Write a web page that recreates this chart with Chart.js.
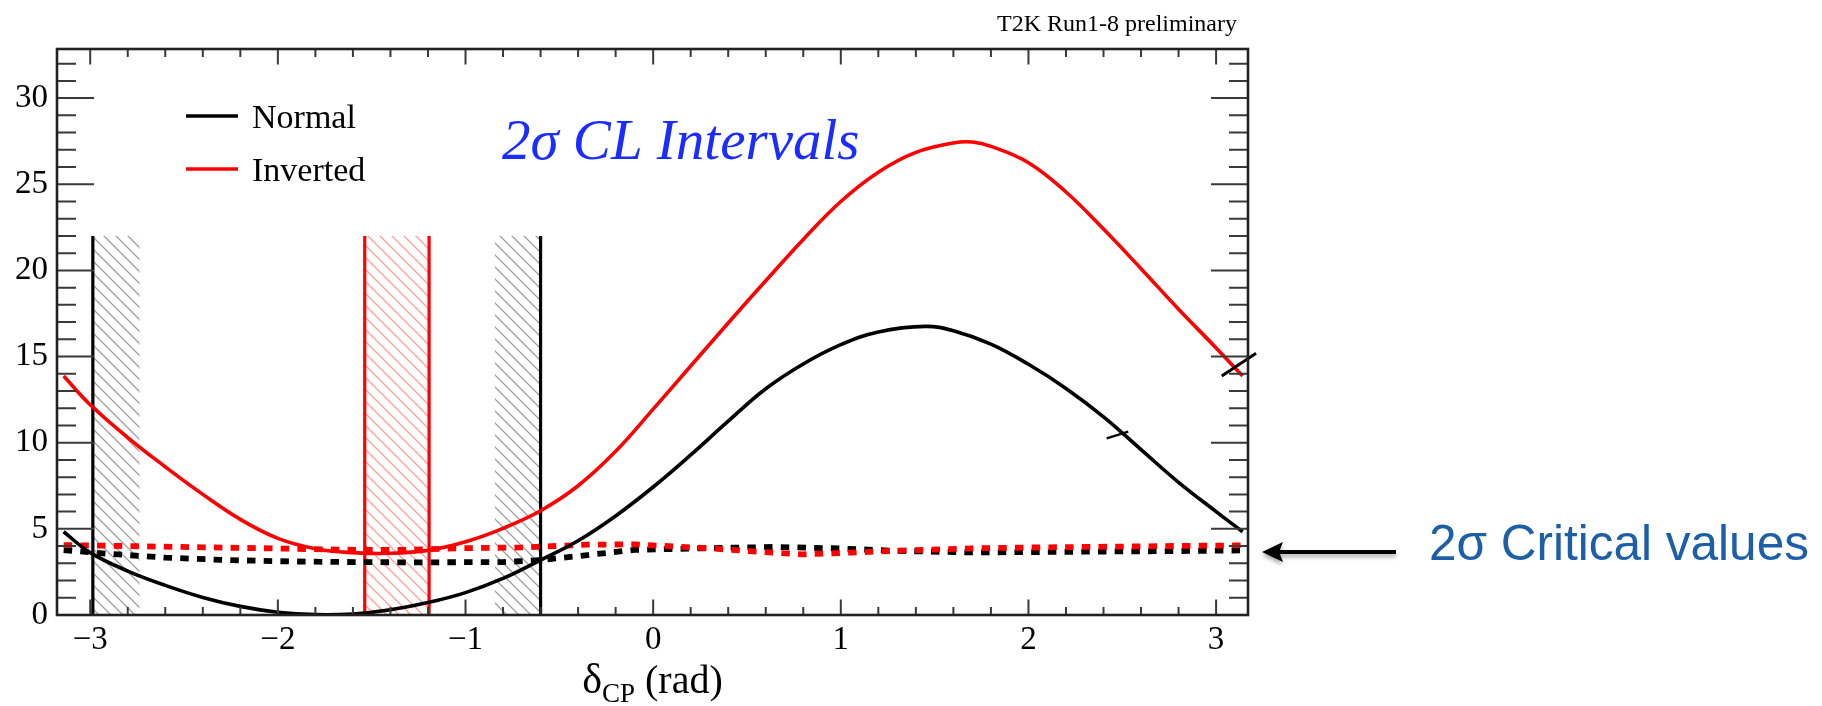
<!DOCTYPE html>
<html><head><meta charset="utf-8">
<script src="https://cdn.jsdelivr.net/npm/chart.js@4.4.1/dist/chart.umd.min.js"></script>
<style>html,body{margin:0;padding:0;background:#fff;overflow:hidden}canvas{display:block}</style>
</head><body>
<canvas id="c" width="1822" height="706"></canvas>
<script>
// ---------- data ----------
const seriesNames = ['Normal', 'Inverted'];

const normalX = [-3.1416,-3.0,-2.8,-2.6,-2.4,-2.2,-2.0,-1.8,-1.6,-1.4,-1.2,-1.0,-0.8,-0.6,-0.4,-0.2,0.0,0.2,0.4,0.6,0.8,1.0,1.2,1.45,1.6,1.8,2.0,2.2,2.4,2.6,2.8,3.0,3.1416];
const normalY = [4.83,3.62,2.55,1.72,1.02,0.5,0.16,0.02,0.06,0.3,0.72,1.3,2.12,3.19,4.31,5.75,7.43,9.29,11.25,13.13,14.57,15.69,16.43,16.75,16.5,15.72,14.55,13.15,11.5,9.6,7.7,6.0,4.83];

const invertedX = [-3.1416,-3.0,-2.8,-2.6,-2.4,-2.2,-2.0,-1.8,-1.6,-1.4,-1.2,-1.0,-0.8,-0.6,-0.4,-0.2,0.0,0.2,0.4,0.6,0.8,1.0,1.2,1.4,1.6,1.7,1.8,2.0,2.2,2.4,2.6,2.8,3.0,3.1416];
const invertedY = [13.87,12.2,10.3,8.6,7.0,5.55,4.45,3.85,3.62,3.58,3.75,4.25,5.03,6.05,7.5,9.5,11.95,14.45,16.95,19.4,21.8,24.0,25.7,26.85,27.4,27.45,27.2,26.25,24.55,22.4,20.1,17.75,15.5,13.87];

const critNormalX = [-3.1416,-2.9,-2.6,-2.3,-2.0,-1.7,-1.4,-1.1,-0.8,-0.6,-0.35,-0.1,0.3,0.65,1.0,1.3,1.7,2.1,2.5,2.9,3.1416];
const critNormalY = [3.77,3.55,3.33,3.2,3.12,3.08,3.06,3.06,3.07,3.19,3.48,3.78,3.88,3.95,3.86,3.72,3.63,3.66,3.69,3.72,3.75];

const critInvertedX = [-3.1416,-2.8,-2.4,-2.0,-1.6,-1.3,-1.0,-0.7,-0.35,-0.1,0.3,0.55,0.8,1.05,1.3,1.7,2.1,2.5,2.9,3.1416];
const critInvertedY = [4.06,4.0,3.93,3.86,3.78,3.78,3.88,3.92,4.08,4.1,3.87,3.68,3.52,3.62,3.73,3.87,3.93,3.97,4.02,4.04];

const normalBounds = [-2.986, -0.6];
const invertedBounds = [-1.537, -1.194];
const normalHatches = [[-2.986, -2.736], [-0.844, -0.6]];
const invertedHatches = [[-1.537, -1.194]];
const boundTop = 22;

const artifactEdgeX = [3.03, 3.213];
const artifactEdgeY = [13.87, 15.19];
const artifactKinkX = [2.417, 2.532];
const artifactKinkY = [10.25, 10.64];

const xTicks = [-3, -2, -1, 0, 1, 2, 3];
const yTicks = [0, 5, 10, 15, 20, 25, 30];
const X_MIN = -3.177, X_MAX = 3.17, Y_MIN = 0, Y_MAX = 32.85;

// ---------- helpers ----------
const pts = (xs, ys) => xs.map((x, i) => ({x, y: ys[i]}));
const cvs = document.getElementById('c');
const mainCtx = cvs.getContext('2d');
function hatch(color, s, lw) {
  const c = document.createElement('canvas'); c.width = s; c.height = s;
  const g = c.getContext('2d'); g.strokeStyle = color; g.lineWidth = lw;
  g.beginPath();
  g.moveTo(-2, -2); g.lineTo(s + 2, s + 2);
  g.moveTo(-2, s - 2); g.lineTo(2, s + 2);
  g.moveTo(s - 2, -2); g.lineTo(s + 2, 2);
  g.stroke();
  return mainCtx.createPattern(c, 'repeat');
}
const grayHatch = hatch('rgba(120,120,120,0.7)', 12, 1.3);
const redHatch = hatch('rgba(255,90,90,0.6)', 12, 1.3);

const datasets = [];
datasets.push({label: seriesNames[1], inLegend: true, data: pts(invertedX, invertedY), borderColor: '#ff0000', borderWidth: 3.6, tension: 0.4, order: 1});
datasets.push({label: seriesNames[0], inLegend: true, data: pts(normalX, normalY), borderColor: '#000000', borderWidth: 3.6, tension: 0.4, order: 2});
datasets.push({label: 'crit inv', data: pts(critInvertedX, critInvertedY), borderColor: '#ff0000', borderWidth: 5.8, borderDash: [8.5, 8.2], order: 3});
datasets.push({label: 'crit norm', data: pts(critNormalX, critNormalY), borderColor: '#000000', borderWidth: 5.8, borderDash: [8.5, 8.2], order: 4});
normalBounds.forEach(b => datasets.push({data: [{x: b, y: 0}, {x: b, y: boundTop}], borderColor: '#000', borderWidth: 3.2, order: 5}));
invertedBounds.forEach(b => datasets.push({data: [{x: b, y: 0}, {x: b, y: boundTop}], borderColor: '#ff0000', borderWidth: 3.2, order: 5}));
normalHatches.forEach(h => datasets.push({data: [{x: h[0], y: boundTop}, {x: h[1], y: boundTop}], borderWidth: 0, fill: 'origin', backgroundColor: grayHatch, order: 9}));
invertedHatches.forEach(h => datasets.push({data: [{x: h[0], y: boundTop}, {x: h[1], y: boundTop}], borderWidth: 0, fill: 'origin', backgroundColor: redHatch, order: 9}));
datasets.push({data: pts(artifactEdgeX, artifactEdgeY), borderColor: '#000', borderWidth: 3, clip: false, order: 0});
datasets.push({data: pts(artifactKinkX, artifactKinkY), borderColor: '#000', borderWidth: 2.5, order: 0});

const SERIF = '"Liberation Serif", "Times New Roman", serif';
const fmt = v => String(v).replace('-', '\u2212');

const decor = {
  id: 'decor',
  afterDatasetsDraw(chart) {
    const {ctx, chartArea: a, scales: {x, y}} = chart;
    ctx.save();
    ctx.strokeStyle = '#3a3a3a'; ctx.lineWidth = 2;
    ctx.beginPath();
    for (let v = Y_MIN; v <= Y_MAX + 1e-9; v += 1) {
      const py = y.getPixelForValue(v);
      const L = yTicks.includes(v) ? 37 : 19;
      ctx.moveTo(a.left, py); ctx.lineTo(a.left + L, py);
      ctx.moveTo(a.right, py); ctx.lineTo(a.right - L, py);
    }
    for (let i = Math.ceil(X_MIN / 0.2); i * 0.2 <= X_MAX + 1e-9; i++) {
      const v = Math.round(i * 2) / 10;
      const px = x.getPixelForValue(v);
      const L = xTicks.includes(v) ? 15.5 : 8;
      ctx.moveTo(px, a.bottom); ctx.lineTo(px, a.bottom - L);
      ctx.moveTo(px, a.top); ctx.lineTo(px, a.top + L);
    }
    ctx.stroke();
    ctx.strokeStyle = '#222'; ctx.lineWidth = 2.6;
    ctx.strokeRect(a.left, a.top, a.right - a.left, a.bottom - a.top);
    ctx.restore();
  },
  afterDraw(chart) {
    const {ctx, chartArea: a} = chart;
    ctx.save();
    ctx.textBaseline = 'alphabetic';
    // header
    ctx.fillStyle = '#000'; ctx.font = '24px ' + SERIF; ctx.textAlign = 'right';
    ctx.fillText('T2K Run1-8 preliminary', 1237, 31);
    // interval label
    ctx.fillStyle = '#1a2cff'; ctx.font = 'italic 57px ' + SERIF; ctx.textAlign = 'left';
    ctx.fillText('2\u03c3 CL Intervals', 502, 159);
    // legend
    const rows = [116, 169];
    chart.data.datasets.filter(d => d.inLegend).sort((p, q) => seriesNames.indexOf(p.label) - seriesNames.indexOf(q.label)).forEach((d, i) => {
      const yy = rows[i];
      ctx.strokeStyle = d.borderColor; ctx.lineWidth = 3.6;
      ctx.beginPath(); ctx.moveTo(186, yy); ctx.lineTo(238, yy); ctx.stroke();
      ctx.fillStyle = '#000'; ctx.font = '34px ' + SERIF; ctx.textAlign = 'left';
      ctx.fillText(d.label, 252, yy + 12);
    });
    // x axis title
    const cx = (a.left + a.right) / 2;
    ctx.fillStyle = '#000'; ctx.textAlign = 'left';
    ctx.font = '42px ' + SERIF;
    const wD = ctx.measureText('\u03b4').width;
    ctx.font = '27px ' + SERIF;
    const wS = ctx.measureText('CP').width;
    ctx.font = '40px ' + SERIF;
    const wR = ctx.measureText(' (rad)').width;
    let tx = cx - (wD + wS + wR) / 2;
    ctx.font = '42px ' + SERIF; ctx.fillText('\u03b4', tx, 693); tx += wD;
    ctx.font = '27px ' + SERIF; ctx.fillText('CP', tx, 702); tx += wS;
    ctx.font = '40px ' + SERIF; ctx.fillText(' (rad)', tx, 693);
    // annotation arrow
    ctx.save();
    ctx.shadowColor = 'rgba(0,0,0,0.35)'; ctx.shadowBlur = 4; ctx.shadowOffsetY = 3;
    ctx.strokeStyle = '#000'; ctx.fillStyle = '#000'; ctx.lineWidth = 4;
    ctx.beginPath(); ctx.moveTo(1276, 552); ctx.lineTo(1396, 552); ctx.stroke();
    ctx.beginPath(); ctx.moveTo(1262, 552); ctx.lineTo(1283, 542); ctx.lineTo(1279, 552); ctx.lineTo(1283, 562); ctx.closePath(); ctx.fill();
    ctx.restore();
    ctx.fillStyle = '#1c5ea8'; ctx.font = '49.5px "Liberation Sans", Arial, sans-serif'; ctx.textAlign = 'left';
    ctx.fillText('2\u03c3 Critical values', 1429, 560);
    ctx.restore();
  }
};

new Chart(cvs, {
  type: 'scatter',
  data: {datasets},
  options: {
    responsive: false, animation: false, devicePixelRatio: 1,
    layout: {padding: {left: 0, right: 1822 - 1248, top: 49, bottom: 0}},
    datasets: {scatter: {showLine: true, pointRadius: 0, pointHoverRadius: 0, fill: false, tension: 0}},
    plugins: {legend: {display: false}, tooltip: {enabled: false}},
    scales: {
      x: {
        type: 'linear', min: X_MIN, max: X_MAX,
        afterBuildTicks: s => { s.ticks = xTicks.map(v => ({value: v})); },
        afterFit: s => { s.height = 706 - 615; },
        ticks: {font: {family: SERIF, size: 33}, color: '#000', padding: 6, maxRotation: 0, autoSkip: false, callback: v => fmt(v)},
        grid: {display: false, drawTicks: false}, border: {display: false}
      },
      y: {
        type: 'linear', min: Y_MIN, max: Y_MAX,
        afterBuildTicks: s => { s.ticks = yTicks.map(v => ({value: v})); },
        afterFit: s => { s.width = 57; },
        ticks: {font: {family: SERIF, size: 33}, color: '#000', padding: 9, autoSkip: false, callback: v => fmt(v)},
        grid: {display: false, drawTicks: false}, border: {display: false}
      }
    }
  },
  plugins: [decor]
});
</script>
</body></html>
